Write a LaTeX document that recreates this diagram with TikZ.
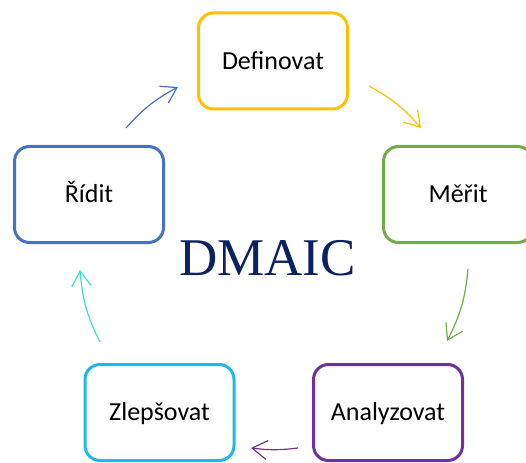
\documentclass[tikz,border=0pt]{standalone}
\usepackage{fontspec}
\setmainfont{Carlito}
\newfontfamily\titlefont{Liberation Serif}
\usetikzlibrary{arrows.meta}

\definecolor{cDef}{HTML}{FFC000}
\definecolor{cMer}{HTML}{70AD47}
\definecolor{cAna}{HTML}{7030A0}
\definecolor{cZle}{HTML}{1CB8F0}
\definecolor{cRid}{HTML}{4472C4}
\definecolor{cTeal}{HTML}{40E0C0}
\definecolor{cNavy}{HTML}{0B2160}

\tikzset{
  phase/.style={draw=#1, line width=3pt, rounded corners=15pt, fill=white,
    minimum width=149pt, minimum height=96pt,
    text height=16.5pt, text depth=0pt, inner sep=0pt,
    font=\fontsize{26}{31}\selectfont},
  flow/.style={draw=#1, line width=1.2pt,
    -{Straight Barb[length=15pt,width=19pt,line width=1.2pt]}},
}

\begin{document}
\begin{tikzpicture}[x=1pt,y=-1pt]
  \useasboundingbox (0,0) rectangle (526,462);
  \clip (0,0) rectangle (526,462);

  % the five phases of the cycle
  \node[phase=cDef] (def) at (273,61) {Definovat};
  \node[phase=cMer] (mer) at (458,194.5) {Měřit};
  \node[phase=cAna] (ana) at (388,412.5) {Analyzovat};
  \node[phase=cZle] (zle) at (159.5,412.5) {Zlepšovat};
  \node[phase=cRid] (rid) at (89,194.5) {Řídit};

  % title in the middle
  \node[anchor=base, text=cNavy, inner sep=0pt,
        font=\titlefont\fontsize{53}{60}\selectfont] (title) at (267.5,275) {DMAIC};

  % arrow end points
  \coordinate (a1s) at (369,86);  \coordinate (a1e) at (421,128);
  \coordinate (a2s) at (468,269); \coordinate (a2e) at (447,341);
  \coordinate (a3s) at (298,448); \coordinate (a3e) at (251,448);
  \coordinate (a4s) at (100,342); \coordinate (a4e) at (80,270);
  \coordinate (a5s) at (126,128); \coordinate (a5e) at (178,87);

  % clockwise arrows between the phases
  \draw[flow=cDef] (a1s) to[bend left=10] (a1e);
  \draw[flow=cMer] (a2s) to[bend left=11] (a2e);
  \draw[flow=cAna] (a3s) to[bend left=7] (a3e);
  \draw[flow=cTeal] (a4s) to[bend left=11] (a4e);
  \draw[flow=cRid] (a5s) to[bend left=10] (a5e);
\end{tikzpicture}
\end{document}
